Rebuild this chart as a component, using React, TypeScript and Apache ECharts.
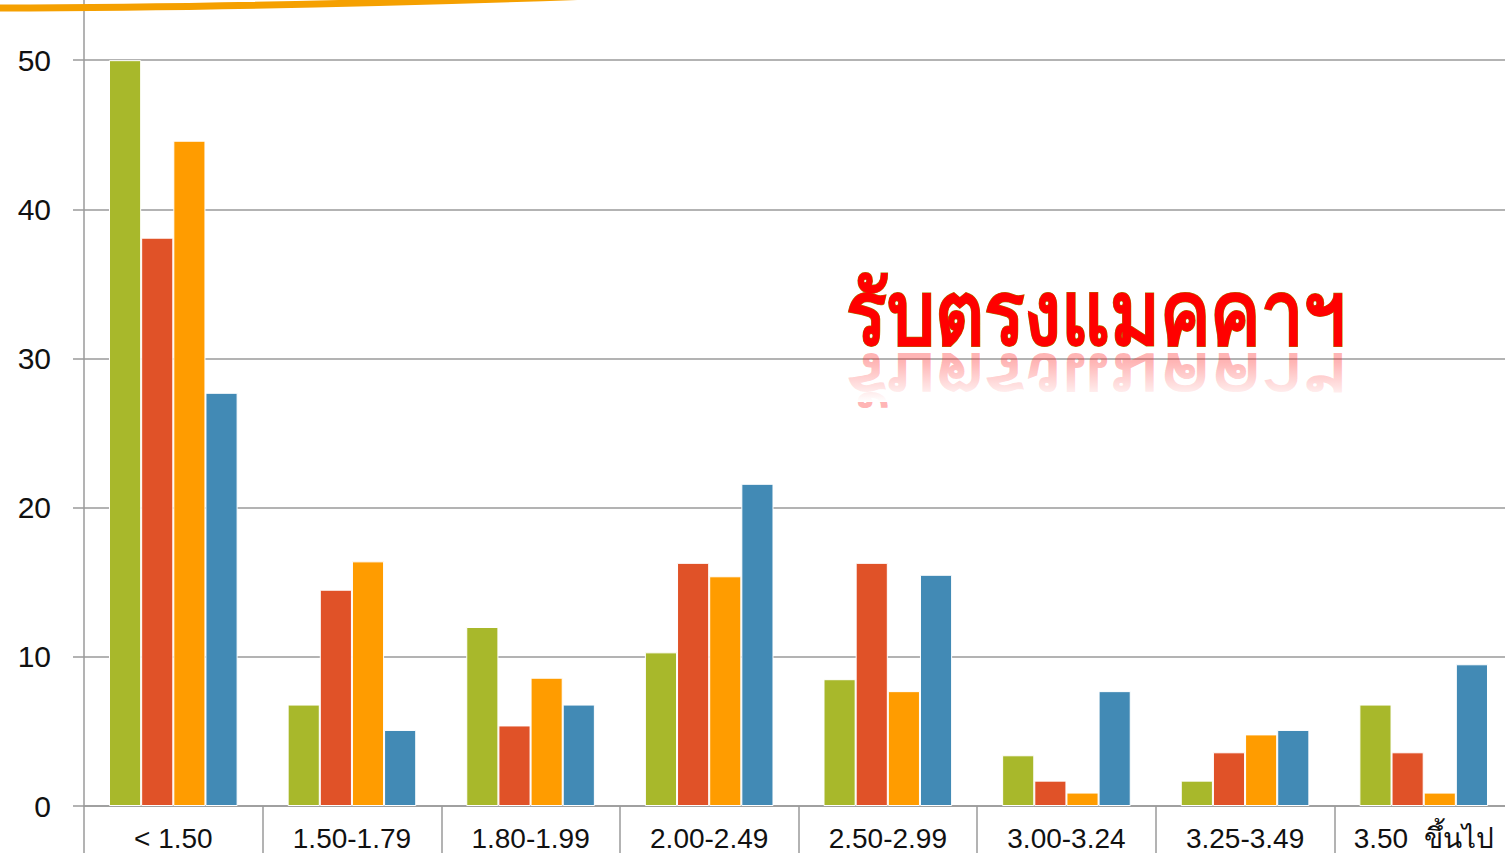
import React, { useEffect, useRef } from "react";
import * as echarts from "echarts";

const categories = ["< 1.50", "1.50-1.79", "1.80-1.99", "2.00-2.49", "2.50-2.99", "3.00-3.24", "3.25-3.49", "3.50  ขึ้นไป"];
const seriesGreen = [50, 6.8, 12.0, 10.3, 8.5, 3.4, 1.7, 6.8];
const seriesRed = [38.1, 14.5, 5.4, 16.3, 16.3, 1.7, 3.6, 3.6];
const seriesOrange = [44.6, 16.4, 8.6, 15.4, 7.7, 0.9, 4.8, 0.9];
const seriesBlue = [27.7, 5.1, 6.8, 21.6, 15.5, 7.7, 5.1, 9.5];
const colors = ["#A8B82B", "#E05228", "#FF9C00", "#428AB5"];
const titleText = "รับตรงแมคคาฯ";

const OFFSET_Y = 89;

export default function App() {
  const ref = useRef<HTMLDivElement>(null);
  useEffect(() => {
    if (!ref.current) return;
    const chart = echarts.init(ref.current, null, { renderer: "svg" });
    const data = [seriesGreen, seriesRed, seriesOrange, seriesBlue];
    const titleFont = "bold 88px 'Noto Sans', sans-serif";
    const titleX = 1096;
    const baseY = 354 + OFFSET_Y;
    chart.setOption({
      animation: false,
      backgroundColor: "#ffffff",
      grid: { left: 84, right: 0, top: 0, bottom: 47, containLabel: false, outerBoundsMode: "none" },
      xAxis: {
        type: "category",
        data: categories,
        axisLine: { show: true, lineStyle: { color: "#9a9a9a", width: 1.5 } },
        axisTick: { show: true, length: 52, interval: 0, lineStyle: { color: "#9a9a9a", width: 1.5 } },
        axisLabel: { interval: 0, margin: 18, color: "#111", fontSize: 28, fontFamily: "Liberation Sans, Arial, sans-serif" },
      },
      yAxis: {
        type: "value",
        min: 0,
        max: 60,
        interval: 10,
        axisLine: { show: true, lineStyle: { color: "#9a9a9a", width: 1.5 } },
        axisTick: { show: true, length: 11, lineStyle: { color: "#9a9a9a", width: 1.5 } },
        axisLabel: { margin: 33, color: "#111", fontSize: 30, fontFamily: "Liberation Sans, Arial, sans-serif", showMaxLabel: false },
        splitLine: { show: true, lineStyle: { color: "#9a9a9a", width: 1.5 } },
      },
      series: data.map((d, i) => ({
        type: "bar",
        data: d,
        barGap: "0%",
        barCategoryGap: "28%",
        itemStyle: { color: colors[i], borderColor: "#ffffff", borderWidth: 1 },
      })),
      graphic: [
        {
          type: "bezierCurve",
          shape: { x1: -10, y1: 8 + OFFSET_Y, cpx1: 260, cpy1: 8 + OFFSET_Y, x2: 620, y2: -5 + OFFSET_Y },
          style: { stroke: "#F5A000", lineWidth: 7, fill: null },
          z: 10,
        },
        {
          type: "text",
          x: titleX,
          y: baseY - 7,
          scaleX: 0.86,
          scaleY: -0.75,
          z: 10,
          style: {
            text: titleText,
            font: titleFont,
            textAlign: "center",
            textVerticalAlign: "bottom",
            fill: "rgba(255,40,40,0.35)",
          },
        },
        {
          type: "rect",
          z: 12,
          shape: { x: 840, y: 362 + OFFSET_Y, width: 520, height: 40 },
          style: {
            fill: new echarts.graphic.LinearGradient(0, 0, 0, 1, [
              { offset: 0, color: "rgba(255,255,255,0)" },
              { offset: 1, color: "rgba(255,255,255,1)" },
            ]),
          },
        },
        {
          type: "text",
          x: titleX,
          y: baseY,
          scaleX: 0.86,
          z: 13,
          style: {
            text: titleText,
            font: titleFont,
            textAlign: "center",
            textVerticalAlign: "bottom",
            fill: "#FF0000",
            stroke: "#A08000",
            lineWidth: 1,
          },
        },
      ],
    });
    return () => chart.dispose();
  }, []);
  return (
    <div style={{ position: "absolute", left: 0, top: 0, width: 1505, height: 853, overflow: "hidden" }}>
      <div ref={ref} style={{ position: "absolute", left: 0, top: -OFFSET_Y, width: 1513, height: 853 + OFFSET_Y }} />
    </div>
  );
}
